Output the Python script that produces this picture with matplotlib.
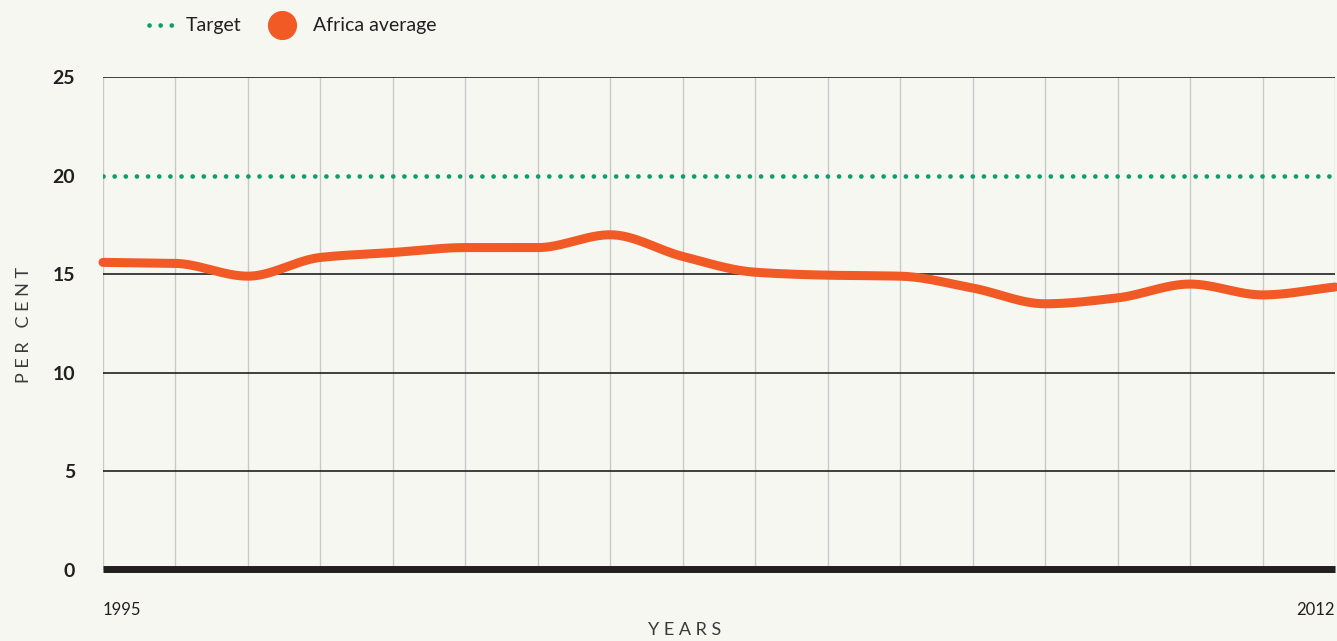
import matplotlib
matplotlib.use("Agg")
import matplotlib.pyplot as plt
from matplotlib.lines import Line2D
import numpy as np

# data
years = list(range(1995, 2013))
africa_avg = [15.6, 15.55, 14.9, 15.85, 16.1, 16.35, 16.35, 17.0, 15.9, 15.1,
              14.95, 14.9, 14.3, 13.5, 13.8, 14.5, 13.95, 14.35]
target = 20
y_ticks = [0, 5, 10, 15, 20, 25]
x_labels = ["1995", "2012"]

BG = "#f7f7f2"
ORANGE = "#f15a24"
GREEN = "#0f9d6b"
TXT = "#231f20"
W, H = 1337, 641


# monotone cubic curve (like d3 curveMonotoneX), only for drawing the line smooth
def monotone_curve(x, y, n=30):
    x = np.asarray(x, float)
    y = np.asarray(y, float)
    h = np.diff(x)
    d = np.diff(y) / h
    m = np.zeros_like(y)
    m[0], m[-1] = d[0], d[-1]
    for i in range(1, len(y) - 1):
        if d[i - 1] * d[i] > 0:
            m[i] = 2 * d[i - 1] * d[i] / (d[i - 1] + d[i])
    xs, ys = [], []
    for i in range(len(h)):
        t = np.linspace(0, 1, n)
        h00 = 2 * t**3 - 3 * t**2 + 1
        h10 = t**3 - 2 * t**2 + t
        h01 = -2 * t**3 + 3 * t**2
        h11 = t**3 - t**2
        xs.append(x[i] + t * h[i])
        ys.append(h00 * y[i] + h10 * h[i] * m[i] + h01 * y[i + 1] + h11 * h[i] * m[i + 1])
    return np.concatenate(xs), np.concatenate(ys)


plt.rcParams["font.family"] = ["Lato", "DejaVu Sans"]

fig = plt.figure(figsize=(W / 100, H / 100), dpi=100, facecolor=BG)
ax = fig.add_axes([103 / W, 1 - 570 / H, 1232 / W, 493 / H])
ax.set_facecolor(BG)

ax.set_xlim(years[0], years[-1])
ax.set_ylim(0, 25)

# vertical grid, one per year
for yr in years:
    ax.axvline(yr, color="#c9c9c9", lw=1, zorder=1)
# horizontal grid (20 is covered by the target line)
for v in y_ticks[1:]:
    if v != target:
        ax.axhline(v, color=TXT, lw=1.2, zorder=2)
ax.axhline(0.05, color=TXT, lw=5, zorder=2, solid_capstyle="butt", clip_on=False)

# target line
dots = (0, (0.01, 2.35))
ax.axhline(target, color=GREEN, lw=3.4, ls=dots, dash_capstyle="round", zorder=3)

# africa average
sx, sy = monotone_curve(years, africa_avg)
ax.plot(sx, sy, color=ORANGE, lw=6.5, solid_capstyle="round", zorder=4, clip_on=False)

for s in ax.spines.values():
    s.set_visible(False)
ax.set_xticks([])
ax.set_yticks(y_ticks)
ax.set_yticklabels([str(v) for v in y_ticks], fontsize=14, fontweight="bold", color=TXT)
ax.tick_params(axis="y", length=0, pad=20)

ax.text(years[0], -1.6, x_labels[0], ha="left", va="top", fontsize=12, color=TXT)
ax.text(years[-1], -1.6, x_labels[1], ha="right", va="top", fontsize=12, color=TXT)

fig.text(24 / W, 1 - 325 / H, "P E R   C E N T", rotation=90, ha="center", va="center",
         fontsize=13, color="#3a3a3a")
fig.text(685 / W, 1 - 630 / H, "Y E A R S", ha="center", va="center",
         fontsize=13, color="#3a3a3a")

# legend, placed by hand
ly = 1 - 25 / H
fig.add_artist(Line2D([149 / W, 173 / W], [ly, ly], color=GREEN, lw=3.4, ls=dots,
                      dash_capstyle="round", transform=fig.transFigure))
fig.text(186 / W, ly, "Target", ha="left", va="center", fontsize=14, color=TXT)
fig.add_artist(Line2D([282 / W], [ly], color=ORANGE, marker="o", markersize=20, ls="none",
                      transform=fig.transFigure))
fig.text(313 / W, ly, "Africa average", ha="left", va="center", fontsize=14, color=TXT)

fig.savefig("out.png", dpi=100, facecolor=BG)
